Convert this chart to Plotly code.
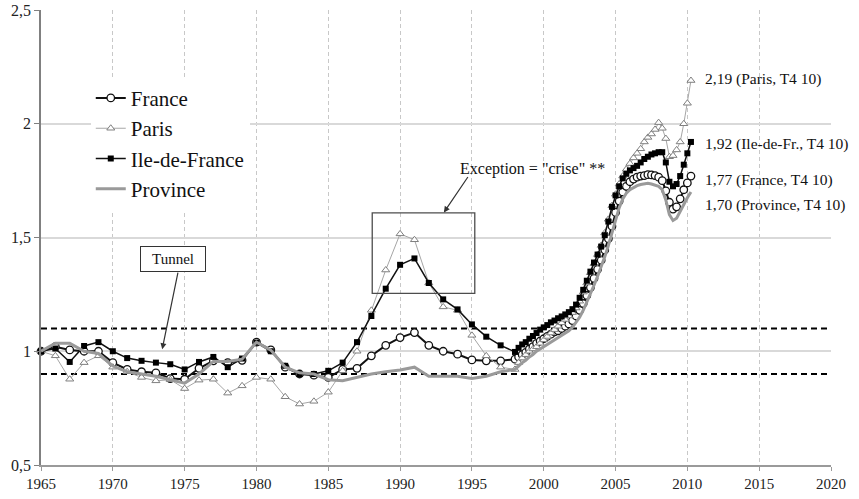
import plotly.graph_objects as go

# ---------------- data ----------------
years_annual = list(range(1965, 1999))  # annual points 1965..1998

france_annual = [1.00, 1.02, 1.006, 1.00, 1.00, 0.95, 0.92, 0.91, 0.905, 0.88,
                 0.877, 0.925, 0.958, 0.95, 0.96, 1.04, 1.006, 0.93, 0.90, 0.895,
                 0.885, 0.92, 0.925, 0.98, 1.026, 1.06, 1.082, 1.026, 1.00, 0.987,
                 0.962, 0.958, 0.958, 0.965]
paris_annual = [1.00, 0.98, 0.877, 0.95, 0.98, 0.93, 0.91, 0.885, 0.87, 0.875,
                0.836, 0.873, 0.877, 0.816, 0.848, 0.885, 0.877, 0.80, 0.768, 0.78,
                0.82, 0.914, 1.00, 1.18, 1.357, 1.516, 1.49, 1.30, 1.195, 1.18,
                1.07, 0.98, 0.93, 0.92]
idf_annual = [1.00, 1.012, 0.953, 1.023, 1.04, 1.00, 0.97, 0.958, 0.95, 0.943,
              0.92, 0.953, 0.975, 0.93, 0.968, 1.038, 1.00, 0.936, 0.90, 0.90,
              0.914, 0.95, 1.04, 1.155, 1.275, 1.38, 1.408, 1.30, 1.228, 1.184,
              1.118, 1.064, 1.026, 0.997]
province_annual = [1.00, 1.035, 1.035, 1.00, 0.99, 0.935, 0.91, 0.90, 0.89, 0.875,
                   0.86, 0.90, 0.955, 0.955, 0.965, 1.04, 1.005, 0.93, 0.905, 0.90,
                   0.875, 0.87, 0.885, 0.90, 0.91, 0.918, 0.93, 0.89, 0.89, 0.89,
                   0.88, 0.89, 0.91, 0.92]

# quarterly points (plotted positions 1998.25 .. 2010.25)
quarter_x = [1998.25 + 0.25 * i for i in range(49)]

france_q = [0.975, 0.985, 0.995, 1.01, 1.02, 1.035, 1.045, 1.055, 1.065, 1.075,
            1.085, 1.09, 1.10, 1.11, 1.12, 1.135, 1.155, 1.18, 1.21, 1.245,
            1.28, 1.32, 1.36, 1.40, 1.445, 1.495, 1.55, 1.61, 1.66, 1.70,
            1.725, 1.745, 1.757, 1.765, 1.77, 1.772, 1.776, 1.775, 1.772, 1.765,
            1.75, 1.705, 1.655, 1.625, 1.635, 1.67, 1.71, 1.74, 1.77]
paris_q = [0.95, 0.97, 0.985, 1.00, 1.01, 1.02, 1.035, 1.05, 1.065, 1.08,
           1.095, 1.11, 1.125, 1.14, 1.155, 1.17, 1.19, 1.22, 1.26, 1.30,
           1.345, 1.385, 1.425, 1.465, 1.52, 1.58, 1.64, 1.69, 1.735, 1.77,
           1.80, 1.825, 1.85, 1.87, 1.89, 1.92, 1.94, 1.955, 1.975, 2.005,
           1.98, 1.935, 1.855, 1.86, 1.885, 1.92, 2.00, 2.09, 2.19]
idf_q = [1.015, 1.03, 1.04, 1.055, 1.067, 1.08, 1.095, 1.105, 1.115, 1.127,
         1.135, 1.145, 1.153, 1.162, 1.172, 1.185, 1.205, 1.235, 1.27, 1.31,
         1.35, 1.39, 1.425, 1.46, 1.51, 1.57, 1.635, 1.685, 1.725, 1.76,
         1.78, 1.795, 1.805, 1.815, 1.83, 1.845, 1.855, 1.865, 1.87, 1.875,
         1.875, 1.83, 1.745, 1.725, 1.735, 1.77, 1.82, 1.87, 1.92]
province_q = [0.935, 0.95, 0.96, 0.975, 0.985, 1.00, 1.01, 1.02, 1.03, 1.04,
              1.05, 1.06, 1.07, 1.08, 1.09, 1.105, 1.125, 1.15, 1.18, 1.215,
              1.25, 1.29, 1.33, 1.37, 1.415, 1.465, 1.52, 1.58, 1.63, 1.67,
              1.695, 1.71, 1.72, 1.728, 1.733, 1.737, 1.738, 1.735, 1.73, 1.725,
              1.71, 1.665, 1.60, 1.575, 1.585, 1.615, 1.65, 1.675, 1.70]

tunnel_bounds = [0.9, 1.1]
crisis_box = dict(x0=1988.06, x1=1995.2, y0=1.254, y1=1.608)

x_ticks = list(range(1965, 2021, 5))
y_ticks = [0.5, 1, 1.5, 2, 2.5]
y_ticklabels = ["0,5", "1", "1,5", "2", "2,5"]

end_labels = ["2,19 (Paris, T4 10)", "1,92 (Ile-de-Fr., T4 10)",
              "1,77 (France, T4 10)", "1,70 (Province, T4 10)"]
end_label_y = [2.197, 1.912, 1.751, 1.645]

# ---------------- figure ----------------
FONT = "Liberation Serif"
x_all = years_annual + quarter_x

fig = go.Figure()

fig.add_trace(go.Scatter(
    x=x_all, y=france_annual + france_q, name="France", mode="lines+markers",
    line=dict(color="#111111", width=2),
    marker=dict(symbol="circle", size=7.5, color="white",
                line=dict(color="#111111", width=1.3)),
    cliponaxis=False))
fig.add_trace(go.Scatter(
    x=x_all, y=paris_annual + paris_q, name="Paris", mode="lines+markers",
    line=dict(color="#a6a6a6", width=1),
    marker=dict(symbol="triangle-up", size=7, color="white",
                line=dict(color="#7f7f7f", width=1)),
    cliponaxis=False))
fig.add_trace(go.Scatter(
    x=x_all, y=idf_annual + idf_q, name="Ile-de-France", mode="lines+markers",
    line=dict(color="#111111", width=1.5),
    marker=dict(symbol="square", size=6, color="#000000"),
    cliponaxis=False))
fig.add_trace(go.Scatter(
    x=x_all, y=province_annual + province_q, name="Province", mode="lines",
    line=dict(color="#9a9a9a", width=3),
    cliponaxis=False))

# tunnel dashed lines
for b in tunnel_bounds:
    fig.add_shape(type="line", xref="x", yref="y", x0=1965, x1=2020, y0=b, y1=b,
                  line=dict(color="#000000", width=2, dash="6px,4px"), layer="below")

# crisis rectangle
fig.add_shape(type="rect", xref="x", yref="y", **crisis_box,
              line=dict(color="#4d4d4d", width=1.3), fillcolor="rgba(0,0,0,0)")

# Tunnel box + arrow
fig.add_annotation(x=1974.17, y=1.4035, xref="x", yref="y", text="Tunnel",
                   showarrow=False, font=dict(family=FONT, size=15, color="#111"),
                   bordercolor="#333333", borderwidth=1, bgcolor="white",
                   width=62, height=22, borderpad=1)
fig.add_annotation(x=1973.44, y=1.009, xref="x", yref="y", text="",
                   showarrow=True, ax=16, ay=-78, arrowhead=2, arrowsize=1,
                   arrowwidth=1.2, arrowcolor="#333333")

# Exception text + arrow
fig.add_annotation(x=1999.23, y=1.803, xref="x", yref="y",
                   text='Exception = "crise" **', showarrow=False,
                   font=dict(family=FONT, size=16, color="#111"))
fig.add_annotation(x=1993.05, y=1.61, xref="x", yref="y", text="",
                   showarrow=True, ax=25, ay=-37, arrowhead=2, arrowsize=1,
                   arrowwidth=1.2, arrowcolor="#333333")

# end labels
for t, yv in zip(end_labels, end_label_y):
    fig.add_annotation(x=2011.06, y=yv, xref="x", yref="y", text=t,
                       showarrow=False, xanchor="left",
                       font=dict(family=FONT, size=15.5, color="#111"))

fig.update_layout(
    width=859, height=499,
    margin=dict(l=41, r=28, t=10, b=34),
    paper_bgcolor="white", plot_bgcolor="white",
    font=dict(family=FONT, size=15, color="#222"),
    showlegend=True,
    legend=dict(x=0.063, y=0.851, xanchor="left", yanchor="top",
                bgcolor="white", borderwidth=0,
                font=dict(family=FONT, size=21, color="#111"),
                itemwidth=30, tracegroupgap=0),
    xaxis=dict(range=[1965, 2020], tickvals=x_ticks, ticktext=[str(v) for v in x_ticks],
               automargin=False,
               showgrid=True, gridcolor="#c8c8c8", gridwidth=1, griddash="4px,3px",
               showline=True, linecolor="#9a9a9a", linewidth=1.5,
               ticks="outside", ticklen=4, tickcolor="#9a9a9a",
               zeroline=False, tickfont=dict(family=FONT, size=15, color="#222")),
    yaxis=dict(range=[0.5, 2.5], tickvals=y_ticks, ticktext=y_ticklabels,
               automargin=False,
               showgrid=True, gridcolor="#d9d9d9", gridwidth=2,
               showline=True, linecolor="#808080", linewidth=1.5,
               ticks="outside", ticklen=5, tickcolor="#808080",
               zeroline=False, tickfont=dict(family=FONT, size=16, color="#222")),
)

fig.write_html("out.html", config={"displayModeBar": False},
               post_script="document.body.style.margin='0';document.body.style.padding='0';")
